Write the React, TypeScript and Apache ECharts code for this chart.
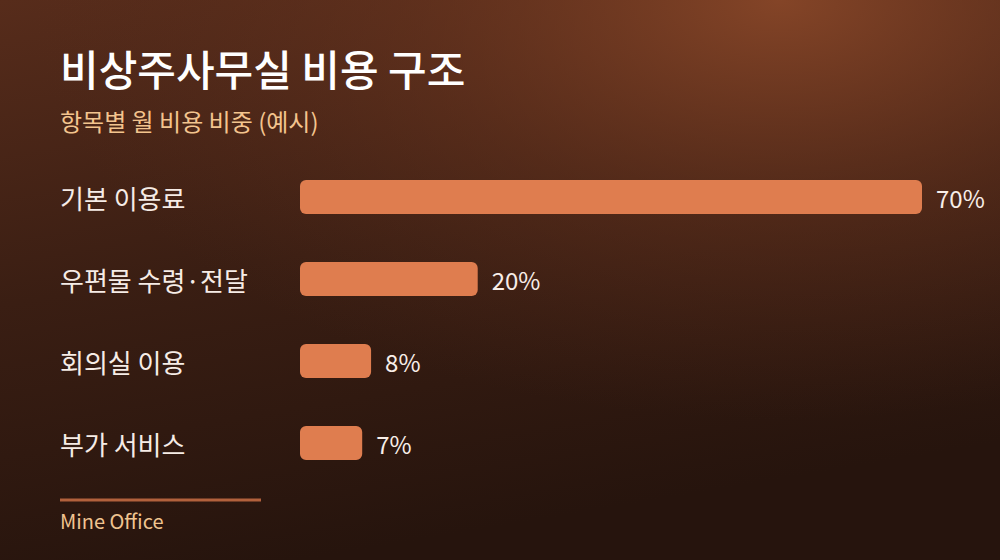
import React, { useEffect, useRef } from 'react';
import * as echarts from 'echarts';

const categories = ['기본 이용료', '우편물 수령·전달', '회의실 이용', '부가 서비스'];
const shares = [70, 20, 8, 7];
const titleText = '비상주사무실 비용 구조';
const subtitleText = '항목별 월 비용 비중 (예시)';
const footerText = 'Mine Office';

const FONT = '"Noto Sans CJK KR", "Noto Sans", sans-serif';

const App: React.FC = () => {
  const chartRef = useRef<HTMLDivElement>(null);

  useEffect(() => {
    document.body.style.margin = '0';
    if (!chartRef.current) return;
    const chart = echarts.init(chartRef.current, undefined, { renderer: 'svg' });

    const option: any = {
      animation: false,
      backgroundColor: {
        type: 'linear',
        x: 0,
        y: 0,
        x2: 0.3,
        y2: 1,
        colorStops: [
          { offset: 0, color: '#572c1b' },
          { offset: 0.5, color: '#3a1e13' },
          { offset: 1, color: '#26140d' }
        ]
      },
      graphic: [
        {
          type: 'rect',
          left: 0,
          top: 0,
          z: -10,
          silent: true,
          shape: { width: 1000, height: 560 },
          style: {
            fill: {
              type: 'radial',
              x: 0.78,
              y: 0,
              r: 0.75,
              colorStops: [
                { offset: 0, color: 'rgba(135, 70, 40, 0.95)' },
                { offset: 0.5, color: 'rgba(110, 55, 32, 0.45)' },
                { offset: 1, color: 'rgba(90, 45, 28, 0)' }
              ]
            }
          }
        },
        {
          type: 'line',
          shape: { x1: 60, y1: 500, x2: 261, y2: 500 },
          style: { stroke: '#b2613c', lineWidth: 3 }
        },
        {
          type: 'text',
          left: 60,
          top: 510,
          style: {
            text: footerText,
            fill: '#f0c490',
            font: `20px ${FONT}`
          }
        }
      ],
      title: {
        text: titleText,
        subtext: subtitleText,
        left: 55,
        top: 41,
        itemGap: 20,
        textStyle: {
          color: '#ffffff',
          fontSize: 42,
          fontWeight: 500,
          fontFamily: FONT
        },
        subtextStyle: {
          color: '#f3c48e',
          fontSize: 24,
          fontFamily: FONT
        }
      },
      grid: {
        left: 300,
        right: 78,
        top: 156,
        bottom: 76
      },
      xAxis: {
        type: 'value',
        min: 0,
        max: 70,
        show: false
      },
      yAxis: {
        type: 'category',
        data: categories,
        inverse: true,
        axisLine: { show: false },
        axisTick: { show: false },
        splitLine: { show: false },
        axisLabel: {
          align: 'left',
          margin: 240,
          color: '#f6ece6',
          fontSize: 26,
          fontFamily: FONT,
          verticalAlign: 'middle',
          padding: [0, 0, 14, 0]
        }
      },
      series: [
        {
          type: 'bar',
          data: shares,
          barWidth: 34,
          itemStyle: {
            color: '#df7d4f',
            borderRadius: 6
          },
          label: {
            show: true,
            position: 'right',
            distance: 14,
            formatter: '{c}%',
            color: '#f8eee8',
            fontSize: 24,
            fontFamily: FONT
          }
        }
      ]
    };

    chart.setOption(option);
    return () => {
      chart.dispose();
    };
  }, []);

  return <div ref={chartRef} style={{ width: 1000, height: 560 }} />;
};

export default App;
